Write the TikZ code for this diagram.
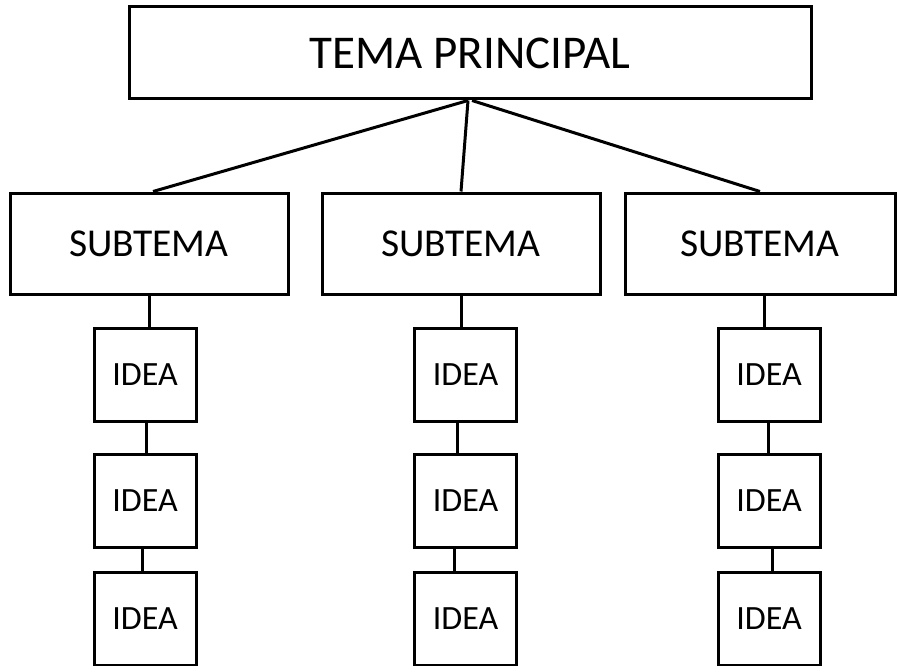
\documentclass[tikz,border=0pt]{standalone}
\usepackage{fontspec}
\setmainfont{Carlito}
\begin{document}
\begin{tikzpicture}[x=1pt,y=-1pt,
  box/.style={draw=black,line width=3pt,inner sep=0pt,fill=white},
  topbox/.style={box,minimum width=682pt,minimum height=92pt,font=\fontsize{47}{52}\selectfont},
  subbox/.style={box,minimum width=278pt,minimum height=101pt,font=\fontsize{39.5}{44}\selectfont},
  ideabox/.style={box,minimum width=102pt,minimum height=93pt,font=\fontsize{34}{38}\selectfont},
  link/.style={draw=black,line width=3pt}]
\useasboundingbox (0,0) rectangle (897,666);
\node[topbox] (top) at (470,53) {TEMA PRINCIPAL};
\node[subbox] (s1) at (149,243.5) {SUBTEMA};
\node[subbox] (s2) at (461,243.5) {SUBTEMA};
\node[subbox,minimum width=270pt] (s3) at (760,243.5) {SUBTEMA};
\foreach \c/\x in {1/145,2/465.5,3/769}{
  \node[ideabox] (i\c a) at (\x,374.5) {IDEA};
  \node[ideabox] (i\c b) at (\x,500.5) {IDEA};
  \node[ideabox] (i\c c) at (\x,618.5) {IDEA};
}
\draw[link] ([xshift=-2pt]top.south) -- ([xshift=4pt]s1.north);
\draw[link] ([xshift=-2pt]top.south) -- (s2.north);
\draw[link] ([xshift=2pt]top.south) -- (s3.north);
\draw[link] (s1.south) -- ([xshift=4pt]i1a.north);
\draw[link] (s2.south) -- ([xshift=-4.5pt]i2a.north);
\draw[link] ([xshift=4pt]s3.south) -- ([xshift=-5pt]i3a.north);
\draw[link] ([xshift=1pt]i1a.south) -- ([xshift=1pt]i1b.north);
\draw[link] ([xshift=-3pt]i1b.south) -- ([xshift=-3pt]i1c.north);
\draw[link] ([xshift=-8.5pt]i2a.south) -- ([xshift=-8.5pt]i2b.north);
\draw[link] ([xshift=-11.5pt]i2b.south) -- ([xshift=-11.5pt]i2c.north);
\draw[link] ([xshift=-1pt]i3a.south) -- ([xshift=-1pt]i3b.north);
\draw[link] ([xshift=3pt]i3b.south) -- ([xshift=3pt]i3c.north);
\end{tikzpicture}
\end{document}
